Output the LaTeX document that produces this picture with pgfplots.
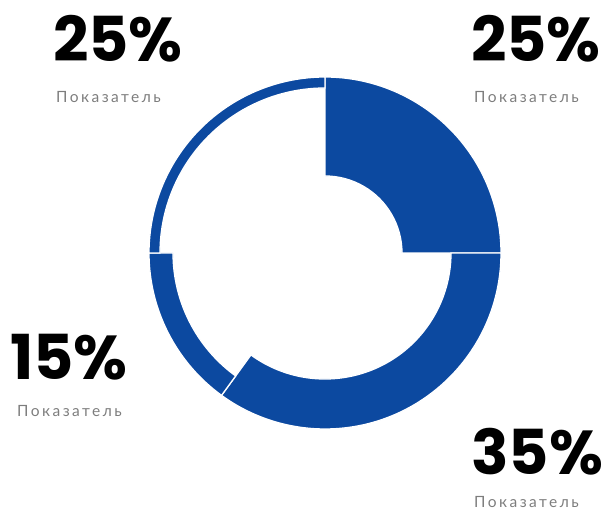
\documentclass[border=0pt]{standalone}
\usepackage{pgfplots}
\pgfplotsset{compat=1.18}
\usepackage{fontspec}
\setmainfont{Lato}
\newfontfamily\labfont{Lato}[LetterSpace=16]
\newfontfamily\numfont{Poppins}
\definecolor{donut}{RGB}{12,73,160}
\definecolor{labelgray}{RGB}{125,125,125}
\begin{document}
\begin{tikzpicture}
\begin{axis}[scale only axis, width=608pt, height=518pt,
  xmin=0, xmax=608, ymin=0, ymax=518, hide axis, clip=false]
\path (axis cs:0,0) rectangle (axis cs:608,518);
\def\cx{325}\def\cy{265}\def\R{176}
\gdef\curang{90}
% value (percent) / inner radius
\foreach \v/\r in {25/77, 35/126, 15/152, 25/165}{
  \pgfmathsetmacro\e{\curang-3.6*\v}
  \edef\temp{\noexpand\fill[donut, draw=white, line width=1.3pt]
    (axis cs:{\cx+\R*cos(\curang)},{\cy+\R*sin(\curang)})
    arc[start angle=\curang, end angle=\e, radius=\R]
    -- (axis cs:{\cx+\r*cos(\e)},{\cy+\r*sin(\e)})
    arc[start angle=\e, end angle=\curang, radius=\r] -- cycle;}
  \temp
  \xdef\curang{\e}
}
\tikzset{num/.style={anchor=base west, inner sep=0pt, text depth=0pt, text height=45pt, font=\numfont\bfseries\fontsize{62}{62}\selectfont},
         lab/.style={anchor=base west, inner sep=0pt, text height=11pt, text depth=1pt, text=labelgray, font=\labfont\fontsize{15.5}{15.5}\selectfont}}
\node[num] at (axis cs:53,456) {25\%};
\node[lab] at (axis cs:56,415) {Показатель};
\node[num] at (axis cs:471,456) {25\%};
\node[lab] at (axis cs:474,415) {Показатель};
\node[num] at (axis cs:10,138) {15\%};
\node[lab] at (axis cs:17,101) {Показатель};
\node[num] at (axis cs:471,43) {35\%};
\node[lab] at (axis cs:474,10) {Показатель};
\end{axis}
\end{tikzpicture}
\end{document}
